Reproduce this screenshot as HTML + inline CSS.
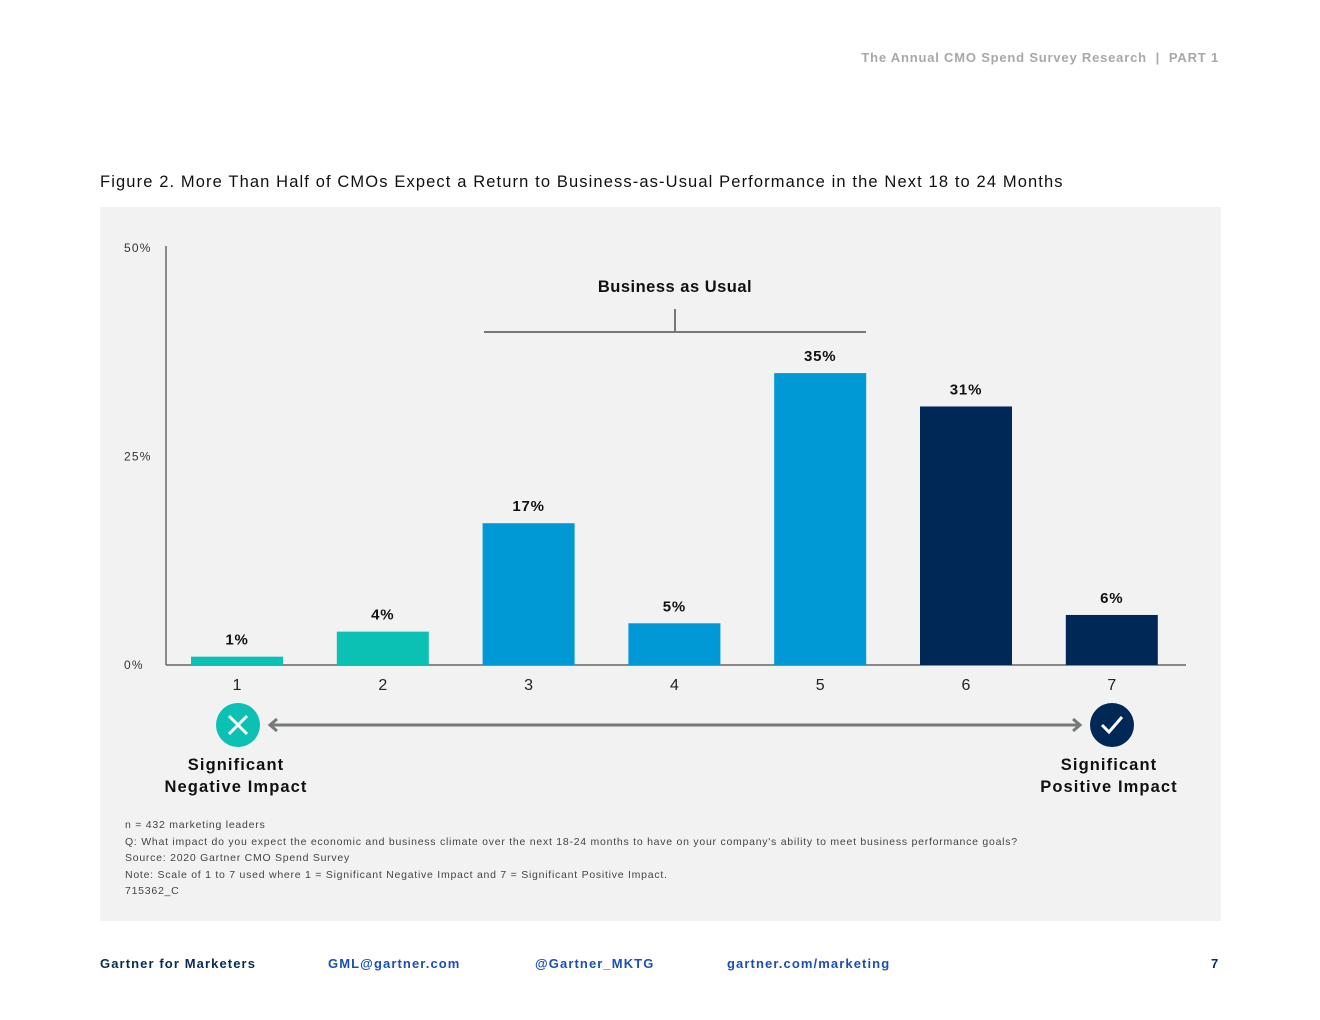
<!DOCTYPE html>
<html><head><meta charset="utf-8">
<style>
body{margin:0;width:1320px;height:1020px;background:#fff;font-family:"Liberation Sans",sans-serif;position:relative;overflow:hidden}
.abs{position:absolute}
.foot{top:956px;font-size:13px;font-weight:bold;color:#1a4fb5;letter-spacing:1.1px}
</style></head><body>
<div class="abs" style="right:101px;top:50px;font-size:13px;color:#a8a8a8;font-weight:bold;letter-spacing:0.8px">The Annual CMO Spend Survey Research &nbsp;|&nbsp; PART 1</div>
<div class="abs" style="left:100px;top:173px;font-size:16.5px;color:#111;letter-spacing:1.12px">Figure 2. More Than Half of CMOs Expect a Return to Business-as-Usual Performance in the Next 18 to 24 Months</div>
<div class="abs" style="left:100px;top:207px;width:1121px;height:714px;background:#f2f2f2"></div>
<svg class="abs" style="left:0;top:0" width="1320" height="1020">
<g id="g"></g>
</svg>
<div class="abs" style="left:125px;top:817px;font-size:10.5px;color:#444;line-height:16.6px;letter-spacing:0.75px">n = 432 marketing leaders<br>Q: What impact do you expect the economic and business climate over the next 18-24 months to have on your company's ability to meet business performance goals?<br>Source: 2020 Gartner CMO Spend Survey<br>Note: Scale of 1 to 7 used where 1 = Significant Negative Impact and 7 = Significant Positive Impact.<br>715362_C</div>
<div class="abs foot" style="left:100px;color:#0a2a5a">Gartner for Marketers</div>
<div class="abs foot" style="left:328px">GML@gartner.com</div>
<div class="abs foot" style="left:535px">@Gartner_MKTG</div>
<div class="abs foot" style="left:727px">gartner.com/marketing</div>
<div class="abs foot" style="left:1211px;color:#0a2a5a">7</div>
<script>
const categories=["1","2","3","4","5","6","7"];
const values=[1,4,17,5,35,31,6];
const colors=["#0bc1b4","#0bc1b4","#0099d6","#0099d6","#0099d6","#002856","#002856"];
const yTicks=[0,25,50];
const yTickLabels=["0%","25%","50%"];
const NS="http://www.w3.org/2000/svg";
const g=document.getElementById('g');
const y=v=>665-v*8.34;
const x=i=>237+i*145.8;
function mk(t,a,txt){const e=document.createElementNS(NS,t);for(const k in a)e.setAttribute(k,a[k]);if(txt!==undefined)e.textContent=txt;g.appendChild(e);return e;}
let e;
e=mk('line',{x1:166,y1:246,x2:166,y2:665,stroke:'#666','stroke-width':1.5});


e=mk('line',{x1:166,y1:665,x2:1186,y2:665,stroke:'#666','stroke-width':1.5});


yTicks.forEach((t,i)=>{
 e=mk('text',{x:124,y:y(t)+4,'font-size':12,fill:'#333','letter-spacing':'1.2'},yTickLabels[i]);
 
 
});
categories.forEach((c,i)=>{
 e=mk('rect',{x:x(i)-46,y:y(values[i]),width:92,height:665-y(values[i]),fill:colors[i]});
 
 
 e=mk('text',{x:x(i),y:y(values[i])-12,'font-size':15,'font-weight':'bold','text-anchor':'middle',fill:'#111','letter-spacing':'0.8'},values[i]+'%');
 
 
 e=mk('text',{x:x(i),y:690,'font-size':16,'text-anchor':'middle',fill:'#222'},c);
 
 
});
e=mk('path',{d:'M484 332 H866 M675 332 V309',stroke:'#777','stroke-width':2,fill:'none'});


e=mk('text',{x:675,y:292,'font-size':16.5,'font-weight':'bold','text-anchor':'middle',fill:'#111','letter-spacing':'0.5'},'Business as Usual');


e=mk('path',{d:'M270 725 H1080 M277 719 L270 725 L277 731 M1073 719 L1080 725 L1073 731',stroke:'#757a78','stroke-width':3,fill:'none'});


e=mk('circle',{cx:238,cy:725,r:22,fill:'#0bc1b4'});


mk('path',{d:'M229 716 L247 734 M247 716 L229 734',stroke:'#fff','stroke-width':3});
e=mk('circle',{cx:1112,cy:725,r:22,fill:'#002856'});


mk('path',{d:'M1102 725 L1109 732 L1122 717',stroke:'#fff','stroke-width':3,fill:'none'});
[['Significant',236,770],['Negative Impact',236,792],['Significant',1109,770],['Positive Impact',1109,792]].forEach(a=>{
 e=mk('text',{x:a[1],y:a[2],'font-size':16.5,'font-weight':'bold','text-anchor':'middle',fill:'#111','letter-spacing':'1.1'},a[0]);
 
 
});
</script>
</body></html>
